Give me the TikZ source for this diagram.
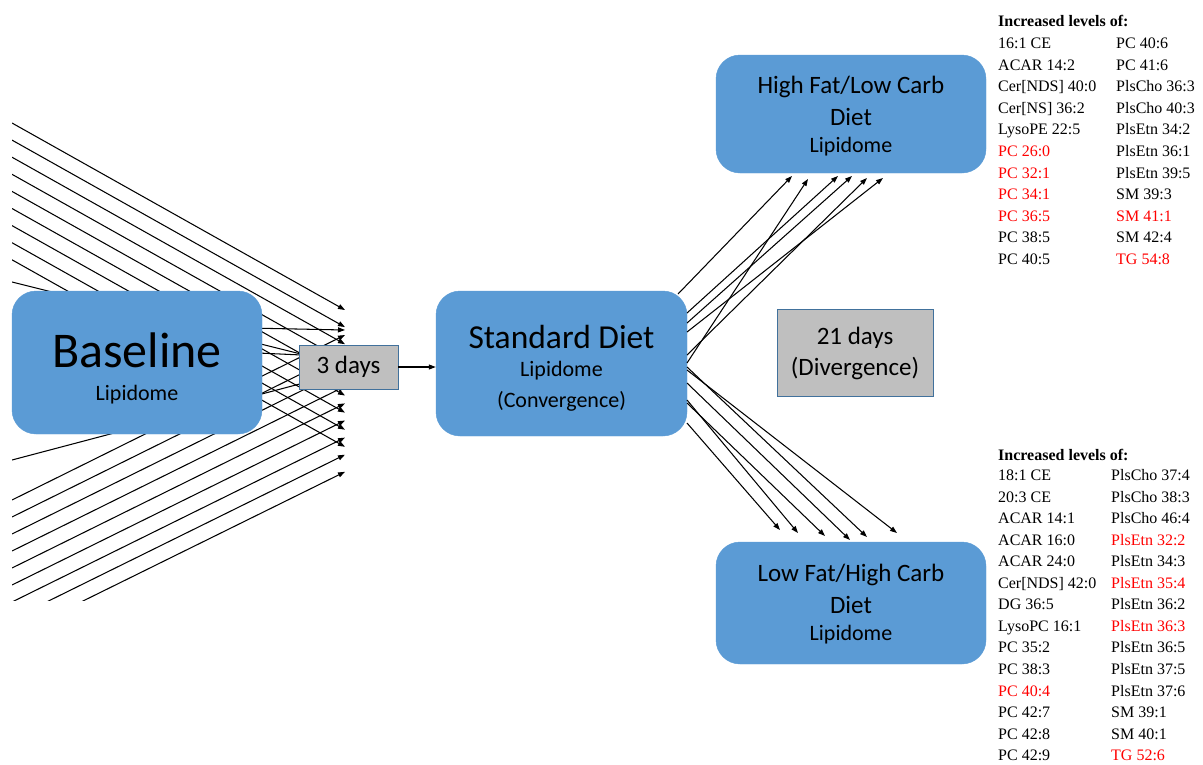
\documentclass[tikz,border=0pt]{standalone}
\usepackage{fontspec}
\setmainfont{Carlito}
\newfontfamily\listfont{Liberation Serif}
\usetikzlibrary{arrows.meta}
\definecolor{boxblue}{HTML}{5B9BD5}
\definecolor{boxgray}{HTML}{BFBFBF}
\definecolor{edgeblue}{HTML}{41719C}
\definecolor{lred}{HTML}{FF0000}
\begin{document}
\begin{tikzpicture}[x=1pt,y=-1pt,
  lipid/.style={fill=boxblue, draw=boxblue, rounded corners=24pt, inner sep=0pt},
  timebox/.style={fill=boxgray, draw=edgeblue, line width=0.8pt, inner sep=0pt, align=center},
  conn/.style={-{Triangle[length=7pt,width=5pt]}, line width=1.05pt, black},
  lst/.style={anchor=base west, inner sep=0pt, font=\listfont\fontsize{16}{19}\selectfont},
  hdr/.style={anchor=base west, inner sep=0pt, font=\listfont\bfseries\fontsize{16}{19}\selectfont},
  big/.style={inner sep=0pt, font=\fontsize{50}{60}\selectfont},
  mid/.style={inner sep=0pt, font=\fontsize{25}{30}\selectfont},
  sml/.style={inner sep=0pt, font=\fontsize{22}{26}\selectfont},
]
\useasboundingbox (0,0) rectangle (1203,764);

% ---- converging lines on the left ----
\begin{scope}
\clip (12,100) rectangle (400,600);
\foreach \i in {0,...,8} {
  \coordinate (ts\i) at (12,{123+17.1*\i});
  \coordinate (te\i) at (345,{310+17.1*\i});
  \draw[conn] (ts\i) -- (te\i);
  \coordinate (bs\i) at (12,{500+17*\i});
  \coordinate (be\i) at (345,{335+17.1*\i});
  \draw[conn] (bs\i) -- (be\i);
}
\coordinate (xs1) at (12,282);  \coordinate (xe1) at (345,365);
\coordinate (xs2) at (12,460);  \coordinate (xe2) at (345,372);
\coordinate (xs3) at (150,326); \coordinate (xe3) at (345,330);
\coordinate (xs4) at (150,348); \coordinate (xe4) at (345,357);
\draw[conn] (xs1) -- (xe1);
\draw[conn] (xs2) -- (xe2);
\draw[conn] (xs3) -- (xe3);
\draw[conn] (xs4) -- (xe4);
\end{scope}

% ---- boxes ----
\node[lipid, minimum width=250pt, minimum height=143pt] (base) at (137,362.5) {};
\node[big] (baset) at (137,350) {Baseline};
\node[sml] (basel) at (137,395) {Lipidome};

\node[timebox, minimum width=99pt, minimum height=44pt, font=\fontsize{25}{30}\selectfont] (three) at (348.5,367) {3 days};

\node[lipid, minimum width=251pt, minimum height=145pt] (std) at (561.5,363.5) {};
\node[inner sep=0pt, font=\fontsize{33.5}{40}\selectfont] (stdt) at (561.5,337) {Standard Diet};
\node[sml] (stdl) at (561.5,371) {Lipidome};
\node[sml] (stdc) at (561.5,401) {(Convergence)};

\draw[conn] (three.east) -- (three.east -| std.west);

\node[timebox, minimum width=156pt, minimum height=87pt] (twentyone) at (855,352.5) {};
\node[mid] (tw1) at (855,338) {21 days};
\node[mid] (tw2) at (855,368) {(Divergence)};

\node[lipid, minimum width=270pt, minimum height=118pt] (hf) at (851,114) {};
\node[mid] (hf1) at (851,87) {High Fat/Low Carb};
\node[mid] (hf2) at (851,117) {Diet};
\node[sml] (hf3) at (851,147) {Lipidome};

\node[lipid, minimum width=270pt, minimum height=122pt] (lf) at (851,603) {};
\node[mid] (lf1) at (851,575) {Low Fat/High Carb};
\node[mid] (lf2) at (851,605) {Diet};
\node[sml] (lf3) at (851,635) {Lipidome};

% ---- diverging arrows ----
\coordinate (u1s) at (678,294); \coordinate (u1e) at (792,176);
\coordinate (u2s) at (687,363); \coordinate (u2e) at (808,179);
\coordinate (u3s) at (687,313); \coordinate (u3e) at (838,176);
\coordinate (u4s) at (687,323); \coordinate (u4e) at (852,176);
\coordinate (u5s) at (687,355); \coordinate (u5e) at (867,178);
\coordinate (u6s) at (687,332); \coordinate (u6e) at (883,178);
\foreach \k in {1,...,6} { \draw[conn] (u\k s) -- (u\k e); }

\coordinate (d1s) at (687,423); \coordinate (d1e) at (780,530);
\coordinate (d2s) at (687,400); \coordinate (d2e) at (798,533);
\coordinate (d3s) at (687,403); \coordinate (d3e) at (825,536);
\coordinate (d4s) at (687,383); \coordinate (d4e) at (850,540);
\coordinate (d5s) at (687,367); \coordinate (d5e) at (867,537);
\coordinate (d6s) at (687,370); \coordinate (d6e) at (897,533);
\foreach \k in {1,...,6} { \draw[conn] (d\k s) -- (d\k e); }

% ---- lists ----
\node[hdr] (h1) at (998,26.5) {Increased levels of:};
\foreach \t/\c [count=\i from 0] in {16:1 CE/black, ACAR 14:2/black, Cer[NDS] 40:0/black, Cer[NS] 36:2/black, LysoPE 22:5/black, PC 26:0/lred, PC 32:1/lred, PC 34:1/lred, PC 36:5/lred, PC 38:5/black, PC 40:5/black}
  \node[lst, text=\c] (ha\i) at (998,{48.5+21.6*\i}) {\t};
\foreach \t/\c [count=\i from 0] in {PC 40:6/black, PC 41:6/black, PlsCho 36:3/black, PlsCho 40:3/black, PlsEtn 34:2/black, PlsEtn 36:1/black, PlsEtn 39:5/black, SM 39:3/black, SM 41:1/lred, SM 42:4/black, TG 54:8/lred}
  \node[lst, text=\c] (hb\i) at (1116,{48.5+21.6*\i}) {\t};

\node[hdr] (h2) at (998,460.5) {Increased levels of:};
\foreach \t/\c [count=\i from 0] in {18:1 CE/black, 20:3 CE/black, ACAR 14:1/black, ACAR 16:0/black, ACAR 24:0/black, Cer[NDS] 42:0/black, DG 36:5/black, LysoPC 16:1/black, PC 35:2/black, PC 38:3/black, PC 40:4/lred, PC 42:7/black, PC 42:8/black, PC 42:9/black}
  \node[lst, text=\c] (la\i) at (998,{480.5+21.55*\i}) {\t};
\foreach \t/\c [count=\i from 0] in {PlsCho 37:4/black, PlsCho 38:3/black, PlsCho 46:4/black, PlsEtn 32:2/lred, PlsEtn 34:3/black, PlsEtn 35:4/lred, PlsEtn 36:2/black, PlsEtn 36:3/lred, PlsEtn 36:5/black, PlsEtn 37:5/black, PlsEtn 37:6/black, SM 39:1/black, SM 40:1/black, TG 52:6/lred}
  \node[lst, text=\c] (lb\i) at (1111,{480.5+21.55*\i}) {\t};
\end{tikzpicture}
\end{document}
